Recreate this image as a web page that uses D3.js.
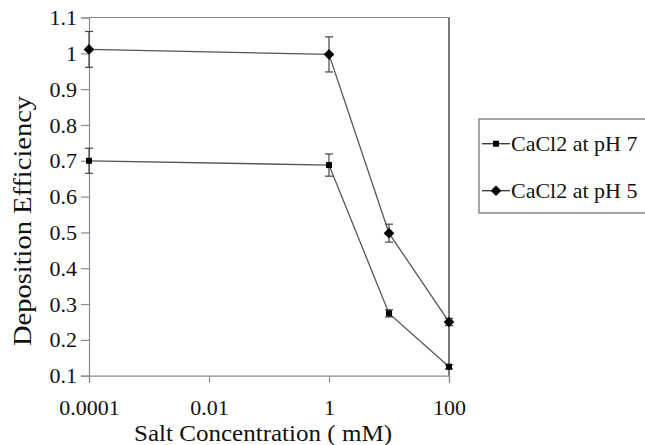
<!DOCTYPE html>
<html>
<head>
<meta charset="utf-8">
<script src="https://cdn.jsdelivr.net/npm/d3@7"></script>
<style>
  body { margin: 0; background: #fff; }
  text { font-family: "Liberation Serif", "Times New Roman", Times, "DejaVu Serif", serif; fill: #111; }
</style>
</head>
<body>
<figure id="chart" style="margin:0"></figure>
<script>
// data
const concentrations = [0.0001, 1, 10, 100];
const ph7Values = [0.70, 0.688, 0.274, 0.125];
const ph7Errors = [0.035, 0.031, 0.010, 0.006];
const ph5Values = [1.011, 0.997, 0.498, 0.250];
const ph5Errors = [0.050, 0.049, 0.025, 0.010];
const seriesNames = ["CaCl2 at pH 7", "CaCl2 at pH 5"];
const xTicks = [0.0001, 0.01, 1, 100];
const xTickLabels = ["0.0001", "0.01", "1", "100"];
const yTicks = [0.1, 0.2, 0.3, 0.4, 0.5, 0.6, 0.7, 0.8, 0.9, 1, 1.1];

const width = 645, height = 445;
const plotLeft = 89, plotRight = 449, plotTop = 17.5, plotBottom = 375.7;
const serif = '"Liberation Serif", "Times New Roman", Times, "DejaVu Serif", serif';

const svg = d3.select("#chart")
  .append("svg")
  .attr("width", width)
  .attr("height", height);

const x = d3.scaleLog()
  .domain([0.0001, 100])
  .range([plotLeft, plotRight]);

const y = d3.scaleLinear()
  .domain([0.1, 1.1])
  .range([plotBottom, plotTop]);

// frame: top grey, right dark
svg.append("line")
  .attr("x1", plotLeft).attr("x2", plotRight)
  .attr("y1", plotTop).attr("y2", plotTop)
  .attr("stroke", "#8a8a8a").attr("stroke-width", 1.2);
svg.append("line")
  .attr("x1", plotRight).attr("x2", plotRight)
  .attr("y1", plotTop).attr("y2", plotBottom)
  .attr("stroke", "#333").attr("stroke-width", 1.3);

// Y axis
const yAxis = svg.append("g")
  .attr("transform", "translate(" + plotLeft + ",0)")
  .call(d3.axisLeft(y).tickValues(yTicks).tickSize(8).tickPadding(4)
    .tickFormat(d3.format("~g")));
yAxis.attr("font-family", serif);
yAxis.select(".domain").attr("stroke", "#8a8a8a").attr("stroke-width", 1.2);
yAxis.selectAll(".tick line").attr("stroke", "#8a8a8a").attr("stroke-width", 1.2);
yAxis.selectAll("text")
  .style("font-family", serif)
  .style("font-size", "22px")
  .attr("fill", "#111");

// X axis
const xAxis = svg.append("g")
  .attr("transform", "translate(0," + plotBottom + ")")
  .call(d3.axisBottom(x).tickValues(xTicks).tickSize(7).tickPadding(17)
    .tickFormat((d, i) => xTickLabels[i]));
xAxis.attr("font-family", serif);
xAxis.select(".domain").attr("stroke", "#8a8a8a").attr("stroke-width", 1.2);
xAxis.selectAll(".tick line").attr("stroke", "#8a8a8a").attr("stroke-width", 1.2);
xAxis.selectAll("text")
  .style("font-family", serif)
  .style("font-size", "22px")
  .attr("fill", "#111");

// axis titles
svg.append("text")
  .attr("x", 263)
  .attr("y", 441)
  .attr("textLength", 258)
  .attr("lengthAdjust", "spacingAndGlyphs")
  .style("font-family", serif)
  .style("text-anchor", "middle")
  .style("font-size", "24px")
  .text("Salt Concentration ( mM)");

svg.append("text")
  .attr("transform", "translate(31," + 221 + ") rotate(-90)")
  .attr("textLength", 250)
  .attr("lengthAdjust", "spacingAndGlyphs")
  .style("font-family", serif)
  .style("text-anchor", "middle")
  .style("font-size", "25px")
  .text("Deposition Efficiency");

// series
const series = [
  { name: seriesNames[0], values: ph7Values, errors: ph7Errors, shape: d3.symbolSquare, size: 36 },
  { name: seriesNames[1], values: ph5Values, errors: ph5Errors, shape: d3.symbolDiamond2, size: 72 }
];

const line = d3.line()
  .x(d => x(d[0]))
  .y(d => y(d[1]));

series.forEach(s => {
  const pts = concentrations.map((c, i) => [c, s.values[i], s.errors[i]]);
  const g = svg.append("g");

  g.append("path")
    .datum(pts)
    .attr("fill", "none")
    .attr("stroke", "#555")
    .attr("stroke-width", 1.3)
    .attr("d", line);

  // error bars
  const eb = g.selectAll(".eb").data(pts).enter().append("g");
  eb.append("line")
    .attr("x1", d => x(d[0])).attr("x2", d => x(d[0]))
    .attr("y1", d => y(d[1] + d[2])).attr("y2", d => y(d[1] - d[2]))
    .attr("stroke", "#444").attr("stroke-width", 1.2);
  [1, -1].forEach(sign => {
    eb.append("line")
      .attr("x1", d => x(d[0]) - 4).attr("x2", d => x(d[0]) + 4)
      .attr("y1", d => y(d[1] + sign * d[2])).attr("y2", d => y(d[1] + sign * d[2]))
      .attr("stroke", "#444").attr("stroke-width", 1.2);
  });

  g.selectAll(".pt").data(pts).enter()
    .append("path")
    .attr("d", d3.symbol().type(s.shape).size(s.size))
    .attr("transform", d => "translate(" + x(d[0]) + "," + y(d[1]) + ")")
    .attr("fill", "#000");
});

// legend
const legend = svg.append("g");
legend.append("rect")
  .attr("x", 479).attr("y", 119)
  .attr("width", 180).attr("height", 94)
  .attr("fill", "#fff")
  .attr("stroke", "#777").attr("stroke-width", 1.3);

series.forEach((s, i) => {
  const ly = 143.7 + i * 47;
  legend.append("line")
    .attr("x1", 482).attr("x2", 510)
    .attr("y1", ly).attr("y2", ly)
    .attr("stroke", "#333").attr("stroke-width", 1.3);
  legend.append("path")
    .attr("d", d3.symbol().type(s.shape).size(s.size))
    .attr("transform", "translate(496," + ly + ")")
    .attr("fill", "#000");
  legend.append("text")
    .attr("x", 511).attr("y", ly + 7)
    .style("font-family", serif)
    .style("font-size", "22px")
    .text(s.name);
});
</script>
</body>
</html>
